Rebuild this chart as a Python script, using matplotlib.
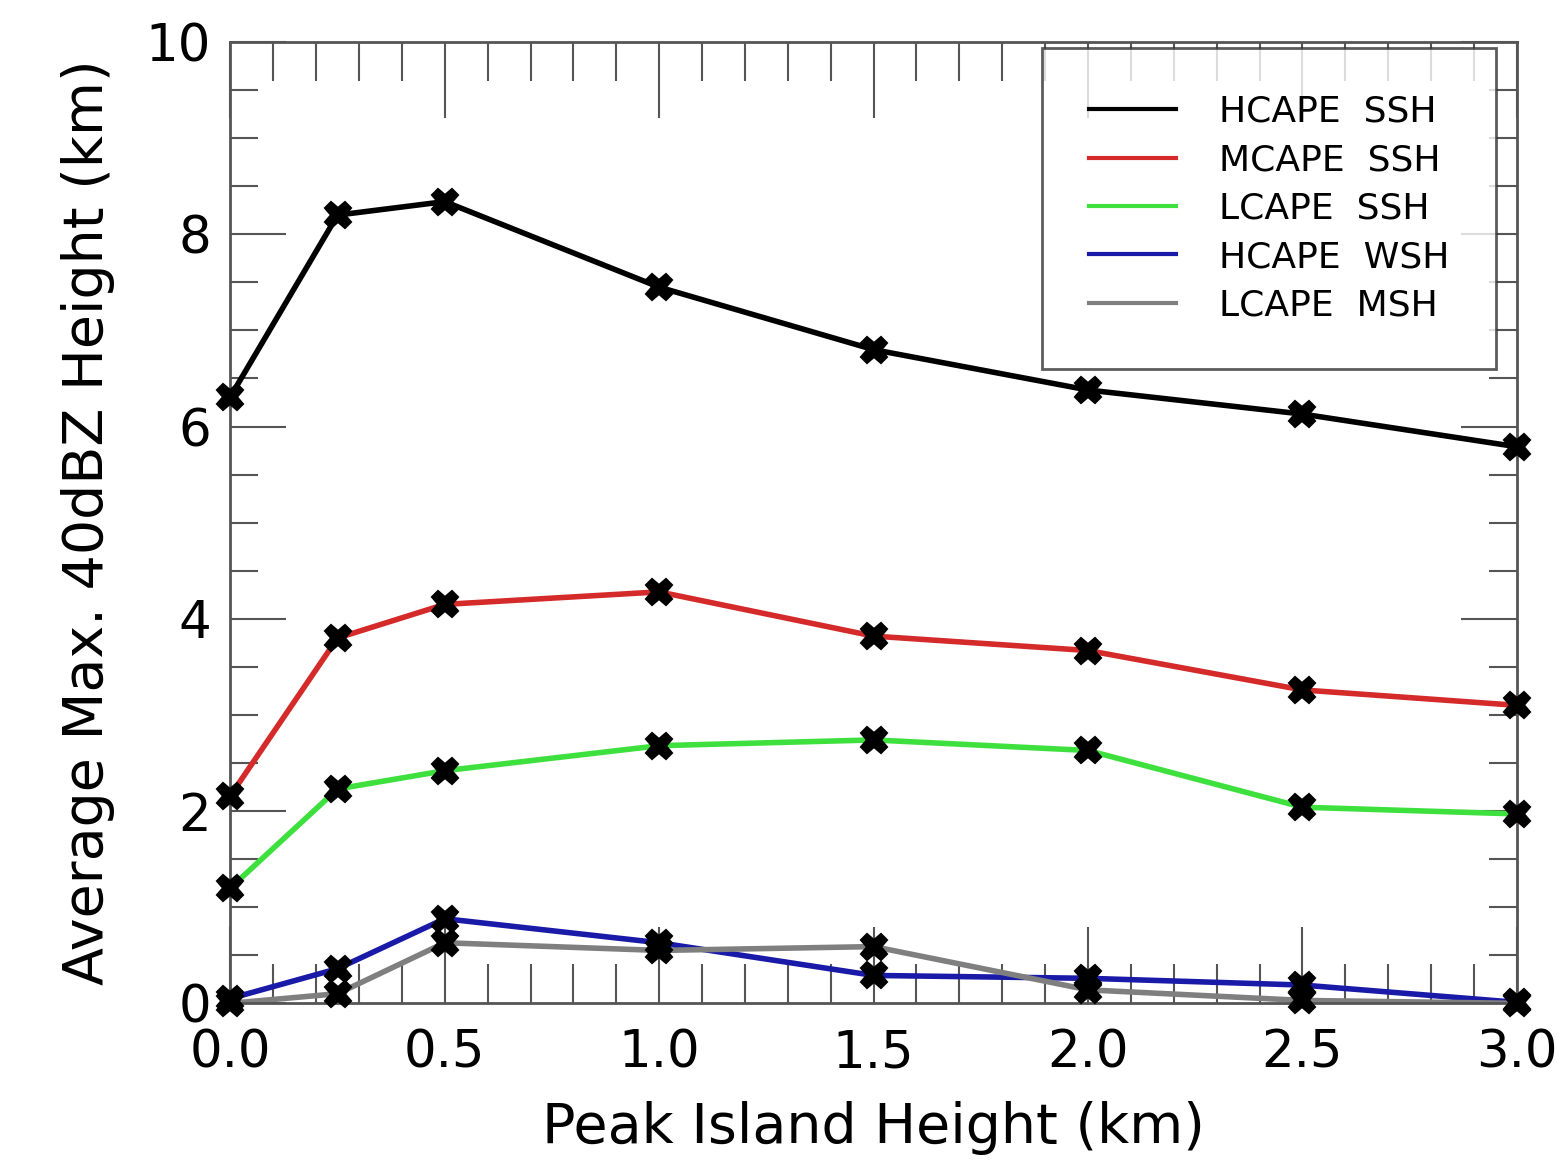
import matplotlib
matplotlib.use("Agg")
import matplotlib.pyplot as plt
from matplotlib.ticker import MultipleLocator

# Peak island height (km)
peak_height = [0.0, 0.25, 0.5, 1.0, 1.5, 2.0, 2.5, 3.0]

# Average max. 40 dBZ height (km) per experiment
hcape_ssh = [6.31, 8.20, 8.34, 7.45, 6.80, 6.38, 6.13, 5.79]
mcape_ssh = [2.16, 3.80, 4.15, 4.28, 3.82, 3.67, 3.26, 3.10]
lcape_ssh = [1.20, 2.23, 2.42, 2.68, 2.74, 2.63, 2.04, 1.97]
hcape_wsh = [0.05, 0.36, 0.88, 0.63, 0.29, 0.26, 0.19, 0.01]
lcape_msh = [0.00, 0.10, 0.63, 0.55, 0.59, 0.14, 0.03, 0.00]

series = [
    ("HCAPE  SSH", hcape_ssh, "#000000"),
    ("MCAPE  SSH", mcape_ssh, "#d42a2a"),
    ("LCAPE  SSH", lcape_ssh, "#3ee03e"),
    ("HCAPE  WSH", hcape_wsh, "#1a1aa8"),
    ("LCAPE  MSH", lcape_msh, "#7f7f7f"),
]

plt.rcParams["font.family"] = ["DejaVu Sans"]

fig = plt.figure(figsize=(15.67, 11.68), dpi=100, facecolor="white")
ax = fig.add_axes([0.147, 0.141, 0.821, 0.823])

handles = []
for label, vals, color in series:
    ax.plot(peak_height, vals, color=color, lw=4, zorder=2)
    ax.plot(peak_height, vals, ls="none", marker="X", ms=19, mfc="black",
            mec="black", mew=1.5, zorder=3, clip_on=False)
    h, = ax.plot([], [], color=color, lw=3.0, label=label)
    handles.append(h)

ax.set_xlim(0, 3.0)
ax.set_ylim(0, 10)
ax.xaxis.set_major_locator(MultipleLocator(0.5))
ax.xaxis.set_minor_locator(MultipleLocator(0.1))
ax.yaxis.set_major_locator(MultipleLocator(2))
ax.yaxis.set_minor_locator(MultipleLocator(0.5))
ax.set_xticks([0, 0.5, 1.0, 1.5, 2.0, 2.5, 3.0])
ax.set_xticklabels(["0.0", "0.5", "1.0", "1.5", "2.0", "2.5", "3.0"])
ax.set_yticks([0, 2, 4, 6, 8, 10])
ax.set_yticklabels(["0", "2", "4", "6", "8", "10"])

ax.tick_params(which="both", direction="in", top=True, right=True,
               color="#555555", labelsize=37, width=1.5)
ax.tick_params(which="major", length=40)
ax.tick_params(which="minor", length=20)
ax.tick_params(axis="x", which="major", length=55, pad=18)
ax.tick_params(axis="x", which="minor", length=28)
ax.tick_params(axis="y", which="major", pad=14)
for sp in ax.spines.values():
    sp.set_color("#555555")
    sp.set_linewidth(2)

ax.set_xlabel("Peak Island Height (km)", fontsize=40, labelpad=16)
ax.set_ylabel("Average Max. 40dBZ Height (km)", fontsize=40, labelpad=22)

leg = ax.legend(handles=handles, loc="upper right", bbox_to_anchor=(0.984, 0.994),
                borderaxespad=0, fontsize=26, frameon=True, fancybox=False,
                edgecolor="#333333", handlelength=2.4, handletextpad=1.2,
                borderpad=1.3, labelspacing=0.4)
leg.get_frame().set_linewidth(2)

fig.savefig("out.png", dpi=100, facecolor="white")
